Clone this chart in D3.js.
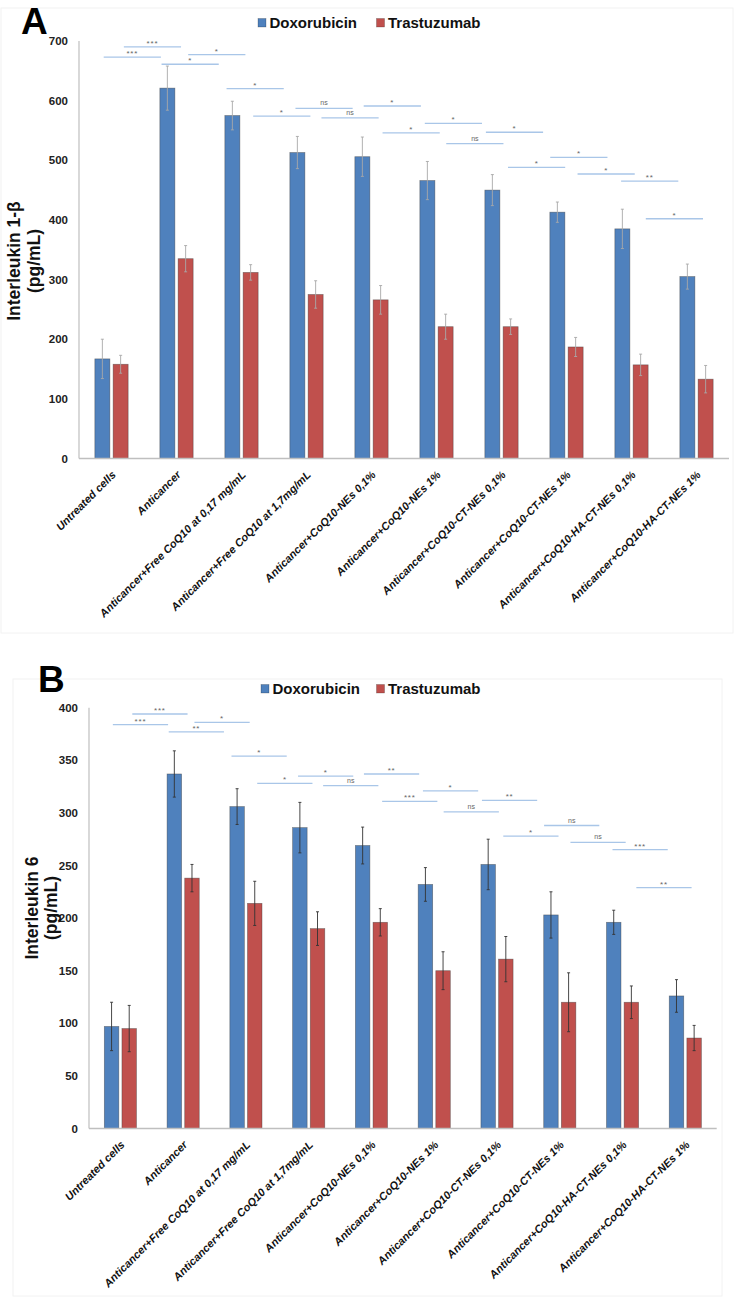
<!DOCTYPE html>
<html>
<head>
<meta charset="utf-8">
<script src="https://cdn.jsdelivr.net/npm/d3@7"></script>
<style>
  html, body { margin: 0; padding: 0; background: #fff; }
  svg { display: block; font-family: "Liberation Sans", Arial, sans-serif; }
</style>
</head>
<body>
<svg id="chart" width="735" height="1298"></svg>
<script>
// ---------------- data ----------------
const categories = [
  "Untreated cells",
  "Anticancer",
  "Anticancer+Free CoQ10 at 0,17 mg/mL",
  "Anticancer+Free CoQ10 at 1,7mg/mL",
  "Anticancer+CoQ10-NEs 0,1%",
  "Anticancer+CoQ10-NEs 1%",
  "Anticancer+CoQ10-CT-NEs 0,1%",
  "Anticancer+CoQ10-CT-NEs 1%",
  "Anticancer+CoQ10-HA-CT-NEs 0,1%",
  "Anticancer+CoQ10-HA-CT-NEs 1%"
];
const seriesNames = ["Doxorubicin", "Trastuzumab"];

// Panel A: Interleukin 1-β
const il1bDox    = [167, 621, 575, 513, 506, 466, 450, 413, 385, 305];
const il1bDoxErr = [33, 37, 24, 27, 33, 32, 26, 17, 33, 21];
const il1bTra    = [158, 335, 312, 275, 266, 221, 221, 187, 157, 133];
const il1bTraErr = [15, 22, 13, 23, 24, 21, 13, 16, 18, 23];
const il1bTicks  = [0, 100, 200, 300, 400, 500, 600, 700];

// Panel B: Interleukin 6
const il6Dox    = [97, 337, 306, 286, 269, 232, 251, 203, 196, 126];
const il6DoxErr = [23, 22, 17, 24, 17.5, 16, 24, 22, 11.5, 15.5];
const il6Tra    = [95, 238, 214, 190, 196, 150, 161, 120, 120, 86];
const il6TraErr = [22, 13, 21, 16, 13, 18, 21.5, 28, 15.5, 12];
const il6Ticks  = [0, 50, 100, 150, 200, 250, 300, 350, 400];

// significance brackets: start position in category units (0 = first category centre)
const sigStart = [-0.12, 0.19, 0.77, 1.18, 1.77, 2.18, 2.83, 3.23, 3.88, 4.17, 4.82, 5.15, 5.76, 6.1, 6.75, 7.17, 7.84, 8.22];
const sigSpan = 0.88;
const il1bSigY     = [673, 690, 661, 677, 620, 574, 587, 571, 591, 546, 562, 528, 547, 488, 505, 477, 465, 402];
const il1bSigLabel = ["***","***","*","*","*","*","ns","ns","*","*","*","ns","*","*","*","*","**","*"];
const il6SigY      = [384, 394, 377, 386, 354, 328, 335, 326, 337, 311, 321, 301, 312, 278, 288, 272, 265, 229];
const il6SigLabel  = ["***","***","**","*","*","*","*","ns","**","***","*","ns","**","*","ns","ns","***","**"];

const colors = ["#4f81bd", "#c0504d"];

// ---------------- drawing ----------------
const svg = d3.select("#chart");

function drawPanel(cfg) {
  const g = svg.append("g");

  // faint chart frame
  g.append("rect")
    .attr("x", cfg.frame[0]).attr("y", cfg.frame[1])
    .attr("width", cfg.frame[2]).attr("height", cfg.frame[3])
    .attr("fill", "none").attr("stroke", "#f2f2f2").attr("stroke-width", 1);

  const x = d3.scaleBand().domain(categories).range(cfg.xRange).padding(0);
  const y = d3.scaleLinear().domain(cfg.yDomain).range(cfg.yRange);
  const bw = x.bandwidth();
  const barW = bw * 0.231;
  const gap = bw * 0.05;
  const center = c => x(c) + bw / 2;
  const u = d3.scaleLinear().domain([0, 1]).range([center(categories[0]), center(categories[0]) + bw]);

  // panel letter
  g.append("text").attr("x", cfg.letterPos[0]).attr("y", cfg.letterPos[1])
    .attr("font-size", 37).attr("font-weight", "bold").attr("fill", "#000").text(cfg.letter);

  // legend
  const leg = g.append("g");
  seriesNames.forEach((s, i) => {
    const lx = cfg.legendX[i];
    leg.append("rect").attr("x", lx).attr("y", cfg.legendY - 9.5)
      .attr("width", 8).attr("height", 8.5).attr("fill", colors[i])
      .attr("stroke", "rgba(0,0,0,0.35)").attr("stroke-width", 0.6);
    leg.append("text").attr("x", lx + 11.5).attr("y", cfg.legendY)
      .attr("font-size", 15).attr("font-weight", "bold").attr("fill", "#111").text(s);
  });

  // axes lines
  g.append("line").attr("x1", cfg.xRange[0]).attr("x2", cfg.xRange[0])
    .attr("y1", y(cfg.yDomain[1])).attr("y2", y(0))
    .attr("stroke", "#bfbfbf").attr("stroke-width", 1.2);

  // y tick labels via axis
  const yAxis = d3.axisLeft(y).tickValues(cfg.ticks).tickSize(0).tickPadding(11);
  const ya = g.append("g").attr("transform", `translate(${cfg.xRange[0]},0)`).call(yAxis);
  ya.select(".domain").remove();
  ya.selectAll("text").attr("font-size", 11.5).attr("font-weight", "bold")
    .attr("fill", "#222").attr("font-family", "Liberation Sans, Arial, sans-serif");

  // y title
  const ty = g.append("text")
    .attr("transform", `translate(0,${cfg.titleY}) rotate(-90)`)
    .attr("text-anchor", "middle").attr("font-size", 17.5).attr("font-weight", "bold").attr("fill", "#111");
  ty.append("tspan").attr("x", 0).attr("y", cfg.titleX[0]).text(cfg.title);
  ty.append("tspan").attr("x", 0).attr("y", cfg.titleX[1]).text("(pg/mL)");

  // bars
  const rows = categories.map((c, i) => ({
    c,
    v: [cfg.dox[i], cfg.tra[i]],
    e: [cfg.doxErr[i], cfg.traErr[i]]
  }));
  const grp = g.selectAll(".grp").data(rows).join("g");
  [0, 1].forEach(s => {
    const bx = d => s === 0 ? center(d.c) - gap / 2 - barW : center(d.c) + gap / 2;
    grp.append("rect")
      .attr("x", bx)
      .attr("y", d => y(d.v[s]))
      .attr("width", barW)
      .attr("height", d => y(0) - y(d.v[s]))
      .attr("fill", colors[s])
      .attr("stroke", "rgba(60,60,60,0.55)").attr("stroke-width", 0.7);
    // error bars
    const ex = d => bx(d) + barW / 2;
    grp.append("line")
      .attr("x1", ex).attr("x2", ex)
      .attr("y1", d => y(d.v[s] + d.e[s])).attr("y2", d => y(d.v[s] - d.e[s]))
      .attr("stroke", cfg.errColor).attr("stroke-width", 0.9);
    grp.append("line")
      .attr("x1", d => ex(d) - 1.5).attr("x2", d => ex(d) + 1.5)
      .attr("y1", d => y(d.v[s] + d.e[s])).attr("y2", d => y(d.v[s] + d.e[s]))
      .attr("stroke", cfg.errColor).attr("stroke-width", 0.9);
    grp.append("line")
      .attr("x1", d => ex(d) - 1.5).attr("x2", d => ex(d) + 1.5)
      .attr("y1", d => y(d.v[s] - d.e[s])).attr("y2", d => y(d.v[s] - d.e[s]))
      .attr("stroke", cfg.errColor).attr("stroke-width", 0.9);
  });

  // baseline
  g.append("line").attr("x1", cfg.xRange[0]).attr("x2", cfg.xRange[1])
    .attr("y1", y(0)).attr("y2", y(0))
    .attr("stroke", "#bfbfbf").attr("stroke-width", 1.5);

  // x labels
  g.selectAll(".xl").data(categories).join("text")
    .attr("transform", c => `translate(${center(c) + 5},${y(0) + 17}) rotate(-45)`)
    .attr("text-anchor", "end")
    .attr("font-size", 11).attr("font-weight", "bold").attr("font-style", "italic")
    .attr("fill", "#111").text(c => c);

  // significance brackets
  const sig = sigStart.map((s, i) => ({ s, yv: cfg.sigY[i], lab: cfg.sigLabel[i] }));
  g.selectAll(".sig").data(sig).join("line")
    .attr("x1", d => u(d.s)).attr("x2", d => u(d.s + sigSpan))
    .attr("y1", d => y(d.yv)).attr("y2", d => y(d.yv))
    .attr("stroke", "#a9c6e8").attr("stroke-width", 1.3);
  g.selectAll(".sigt").data(sig).join("text")
    .attr("x", d => u(d.s + sigSpan / 2))
    .attr("y", d => y(d.yv) - (d.lab === "ns" ? 3 : 1))
    .attr("text-anchor", "middle")
    .attr("font-size", d => d.lab === "ns" ? 7 : 8)
    .attr("fill", "#666")
    .attr("letter-spacing", d => d.lab === "ns" ? 0 : 0.8)
    .text(d => d.lab);
}

drawPanel({
  letter: "A", letterPos: [21, 34],
  frame: [1, 8, 732, 625],
  xRange: [79, 729], yRange: [458.5, 41], yDomain: [0, 700], ticks: il1bTicks,
  legendX: [258, 376.5], legendY: 28,
  title: "Interleukin 1-β", titleY: 261, titleX: [19.5, 39.5],
  dox: il1bDox, doxErr: il1bDoxErr, tra: il1bTra, traErr: il1bTraErr,
  errColor: "#a8a8a8",
  sigY: il1bSigY, sigLabel: il1bSigLabel
});

drawPanel({
  letter: "B", letterPos: [38, 692],
  frame: [13, 679, 709, 617],
  xRange: [89, 716.7], yRange: [1128.5, 707.7], yDomain: [0, 400], ticks: il6Ticks,
  legendX: [261, 376.5], legendY: 694,
  title: "Interleukin 6", titleY: 908, titleX: [37.5, 57],
  dox: il6Dox, doxErr: il6DoxErr, tra: il6Tra, traErr: il6TraErr,
  errColor: "#333",
  sigY: il6SigY, sigLabel: il6SigLabel
});
</script>
</body>
</html>
